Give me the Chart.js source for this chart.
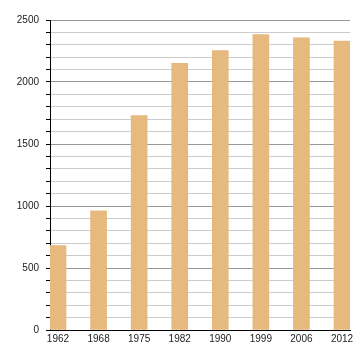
<!DOCTYPE html>
<html>
<head>
<meta charset="utf-8">
<script src="https://cdn.jsdelivr.net/npm/chart.js@4"></script>
<style>
  html, body { margin: 0; padding: 0; background: #fff; }
  #wrap { width: 360px; height: 360px; }
</style>
</head>
<body>
<div id="wrap"><canvas id="chart"></canvas></div>
<script>
// census years and population
const years = ["1962", "1968", "1975", "1982", "1990", "1999", "2006", "2012"];
const population = [680, 961, 1730, 2150, 2254, 2383, 2356, 2329];
const yMin = 0;
const yMax = 2500;
const yStep = 100;
const yLabelStep = 500;

const points = population.map((v, i) => ({ x: i, y: v }));

const canvas = document.getElementById("chart");

new Chart(canvas, {
    type: "bar",
    data: {
        datasets: [{
            data: points,
            backgroundColor: "#e6b97e",
            barThickness: 16
        }]
    },
    options: {
        responsive: true,
        maintainAspectRatio: false,
        animation: false,
        layout: { padding: { left: 0, right: 10, top: 20, bottom: 0 } },
        plugins: {
            legend: { display: false },
            tooltip: { enabled: false }
        },
        scales: {
            x: {
                type: "linear",
                offset: false,
                min: -0.197,
                max: years.length - 1 + 0.197,
                afterBuildTicks: (scale) => {
                    scale.ticks = years.map((y, i) => ({ value: i }));
                },
                afterFit: (scale) => { scale.height = 30; },
                ticks: {
                    autoSkip: false,
                    maxRotation: 0,
                    padding: 3,
                    color: "#222",
                    font: { family: "Liberation Sans", size: 10 },
                    callback: (v) => years[v]
                },
                grid: { display: false, drawTicks: false, offset: false },
                border: { display: true, color: "#000", width: 1 }
            },
            y: {
                min: yMin,
                max: yMax,
                afterFit: (scale) => { scale.width = 50; },
                ticks: {
                    stepSize: yStep,
                    autoSkip: false,
                    padding: 7,
                    color: "#222",
                    font: { family: "Liberation Sans", size: 10 },
                    callback: (v) => (v % yLabelStep === 0 ? v : "")
                },
                grid: {
                    color: (ctx) => (ctx.tick && ctx.tick.value % yLabelStep === 0 ? "#999" : "#ccc"),
                    tickColor: "#000",
                    tickLength: 4,
                    lineWidth: 1
                },
                border: { display: true, color: "#000", width: 1 }
            }
        }
    }
});
</script>
</body>
</html>
